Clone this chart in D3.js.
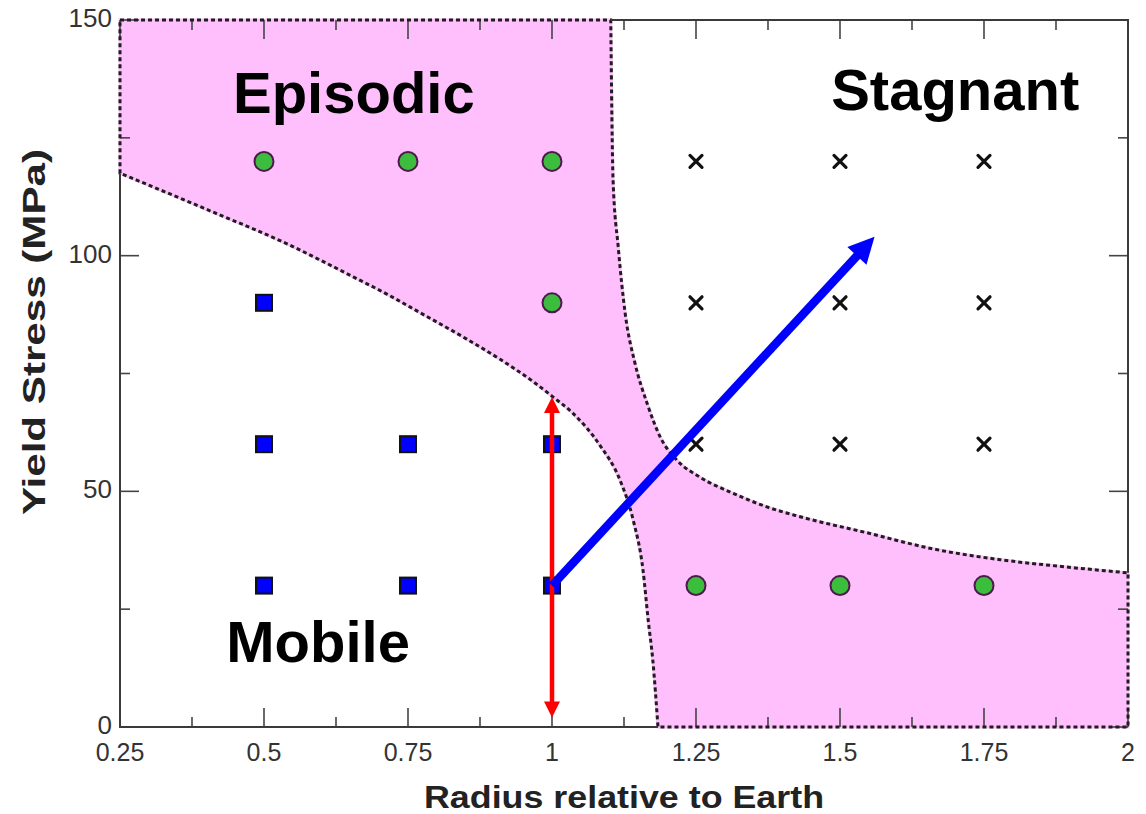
<!DOCTYPE html>
<html>
<head>
<meta charset="utf-8">
<script src="https://cdn.jsdelivr.net/npm/d3@7"></script>
<style>
  html, body { margin: 0; padding: 0; background: #fff; }
  svg { display: block; font-family: "Liberation Sans", Arial, Helvetica, sans-serif; }
</style>
</head>
<body>
<svg id="chart" width="1146" height="814"></svg>
<script>
// Regime diagram: yield stress vs planetary radius

// Boundary between mobile lid and episodic regimes (radius, yield stress)
const mobileEpisodicBoundary = [
  [0.25, 117.5], [0.307, 114.6], [0.366, 111.6], [0.424, 108.6], [0.481, 105.7],
  [0.540, 102.5], [0.597, 99.1], [0.655, 95.5], [0.714, 91.8], [0.771, 87.9],
  [0.852, 82.3], [0.910, 78.0], [0.967, 73.3], [1.002, 70.0], [1.036, 66.6],
  [1.083, 59.8], [1.118, 52.4], [1.141, 43.9], [1.158, 33.3], [1.167, 22.7],
  [1.175, 14.2], [1.184, 0]
];

// Boundary between episodic and stagnant lid regimes
const episodicStagnantBoundary = [
  [1.102, 150], [1.106, 116.1], [1.115, 101.8], [1.127, 87.8], [1.144, 77.2],
  [1.165, 68.7], [1.188, 61.5], [1.217, 56.6], [1.257, 53.0], [1.314, 49.6],
  [1.373, 46.7], [1.431, 44.6], [1.547, 41.2], [1.661, 37.8], [1.778, 35.5],
  [1.889, 34.0], [2.0, 32.7]
];

// Simulation outcomes
const episodicRuns = [[0.5, 120], [0.75, 120], [1, 120], [1, 90], [1.25, 30], [1.5, 30], [1.75, 30]];
const mobileRuns   = [[0.5, 90], [0.5, 60], [0.75, 60], [1, 60], [0.5, 30], [0.75, 30], [1, 30]];
const stagnantRuns = [[1.25, 120], [1.5, 120], [1.75, 120], [1.25, 90], [1.5, 90], [1.75, 90],
                      [1.25, 60], [1.5, 60], [1.75, 60]];

// Arrows
const redArrow  = [[1, 2], [1, 70]];
const blueArrow = [[1, 30], [1.56, 104]];

// Axes
const xDomain = [0.25, 2];
const yDomain = [0, 150];
const xTickValues = [0.25, 0.5, 0.75, 1, 1.25, 1.5, 1.75, 2];
const xTickLabels = ["0.25", "0.5", "0.75", "1", "1.25", "1.5", "1.75", "2"];
const xMinorTicks = [0.375, 0.625, 0.875, 1.125, 1.375, 1.625, 1.875];
const yTickValues = [0, 50, 100, 150];
const yTickLabels = ["0", "50", "100", "150"];
const yMinorTicks = [25, 75, 125];

const regionLabels = [
  { text: "Episodic", x: 0.656, y: 130.2 },
  { text: "Stagnant", x: 1.70, y: 131.0 },
  { text: "Mobile",   x: 0.594, y: 13.8 }
];

const margin = { top: 20, right: 18, bottom: 87, left: 120 };
const W = 1146, H = 814;
const svg = d3.select("#chart");
const x = d3.scaleLinear().domain(xDomain).range([margin.left, W - margin.right]);
const y = d3.scaleLinear().domain(yDomain).range([H - margin.bottom, margin.top]);

const pink = "#ffbffc";
const frameColor = "#3a3a3a";

// Frame background
svg.append("rect")
  .attr("x", x(xDomain[0])).attr("y", y(yDomain[1]))
  .attr("width", x(xDomain[1]) - x(xDomain[0]))
  .attr("height", y(yDomain[0]) - y(yDomain[1]))
  .attr("fill", "#fff").attr("stroke", frameColor).attr("stroke-width", 2);

// Episodic region: between the two boundaries, closed along the frame
const line = d3.line().x(d => x(d[0])).y(d => y(d[1])).curve(d3.curveMonotoneX);
const seg2 = line(episodicStagnantBoundary);
const seg1 = line(mobileEpisodicBoundary.slice().reverse());
const regionFull = `M${x(xDomain[0])},${y(yDomain[1])}` +
  seg2.replace(/^M/, "L") +
  `L${x(xDomain[1])},${y(yDomain[0])}` +
  seg1.replace(/^M/, "L") + "Z";

svg.append("path")
  .attr("d", regionFull)
  .attr("fill", pink)
  .attr("stroke", pink).attr("stroke-width", 3);

// Ticks (inward, on all four sides)
const tickG = svg.append("g").attr("stroke", "#444").attr("stroke-width", 1.6);
const majorLen = 19, minorLen = 10;
xTickValues.forEach(v => {
  tickG.append("line").attr("x1", x(v)).attr("x2", x(v)).attr("y1", y(0)).attr("y2", y(0) - majorLen);
  tickG.append("line").attr("x1", x(v)).attr("x2", x(v)).attr("y1", y(150)).attr("y2", y(150) + majorLen);
});
xMinorTicks.forEach(v => {
  tickG.append("line").attr("x1", x(v)).attr("x2", x(v)).attr("y1", y(0)).attr("y2", y(0) - minorLen);
  tickG.append("line").attr("x1", x(v)).attr("x2", x(v)).attr("y1", y(150)).attr("y2", y(150) + minorLen);
});
yTickValues.forEach(v => {
  tickG.append("line").attr("x1", x(0.25)).attr("x2", x(0.25) + majorLen).attr("y1", y(v)).attr("y2", y(v));
  tickG.append("line").attr("x1", x(2)).attr("x2", x(2) - majorLen).attr("y1", y(v)).attr("y2", y(v));
});
yMinorTicks.forEach(v => {
  tickG.append("line").attr("x1", x(0.25)).attr("x2", x(0.25) + minorLen).attr("y1", y(v)).attr("y2", y(v));
  tickG.append("line").attr("x1", x(2)).attr("x2", x(2) - minorLen).attr("y1", y(v)).attr("y2", y(v));
});

// Dashed boundaries and region outline
svg.append("path").attr("d", regionFull)
  .attr("fill", "none").attr("stroke", "#1e1e1e")
  .attr("stroke-width", 3).attr("stroke-dasharray", "4,3");

// Frame segments outside the pink region (solid)
const frameG = svg.append("g").attr("stroke", frameColor).attr("stroke-width", 2).attr("fill", "none");
frameG.append("line").attr("x1", x(0.25)).attr("x2", x(0.25))
  .attr("y1", y(mobileEpisodicBoundary[0][1])).attr("y2", y(0));
frameG.append("line").attr("x1", x(0.25)).attr("x2", x(mobileEpisodicBoundary[mobileEpisodicBoundary.length - 1][0]))
  .attr("y1", y(0)).attr("y2", y(0));
frameG.append("line").attr("x1", x(episodicStagnantBoundary[0][0])).attr("x2", x(2))
  .attr("y1", y(150)).attr("y2", y(150));
frameG.append("line").attr("x1", x(2)).attr("x2", x(2))
  .attr("y1", y(150)).attr("y2", y(episodicStagnantBoundary[episodicStagnantBoundary.length - 1][1]));

// Tick labels
const labelG = svg.append("g").attr("fill", "#333");
xTickValues.forEach((v, i) => {
  labelG.append("text").attr("x", x(v)).attr("y", y(0) + 34).attr("font-size", 25)
    .attr("text-anchor", "middle").text(xTickLabels[i]);
});
yTickValues.forEach((v, i) => {
  labelG.append("text").attr("x", x(0.25) - 8).attr("y", y(v) + 7).attr("font-size", 26)
    .attr("text-anchor", "end").text(yTickLabels[i]);
});

// Axis titles
svg.append("text")
  .attr("x", (x(0.25) + x(2)) / 2).attr("y", 808)
  .attr("text-anchor", "middle").attr("font-weight", "bold").attr("font-size", 32)
  .attr("textLength", 400).attr("lengthAdjust", "spacingAndGlyphs")
  .attr("fill", "#222").text("Radius relative to Earth");
svg.append("text")
  .attr("transform", `translate(45,332) rotate(-90)`)
  .attr("text-anchor", "middle").attr("font-weight", "bold").attr("font-size", 32)
  .attr("textLength", 366).attr("lengthAdjust", "spacingAndGlyphs")
  .attr("fill", "#222").text("Yield Stress (MPa)");

// Region labels
svg.append("g").selectAll("text").data(regionLabels).join("text")
  .attr("x", d => x(d.x)).attr("y", d => y(d.y))
  .attr("text-anchor", "middle").attr("font-weight", "bold").attr("font-size", 58)
  .attr("fill", "#000").text(d => d.text);

// Markers
svg.append("g").selectAll("circle").data(episodicRuns).join("circle")
  .attr("cx", d => x(d[0])).attr("cy", d => y(d[1])).attr("r", 9.5)
  .attr("fill", "#3dbd3d").attr("stroke", "#4b1a4b").attr("stroke-width", 2);

const sq = 16;
svg.append("g").selectAll("rect").data(mobileRuns).join("rect")
  .attr("x", d => x(d[0]) - sq / 2).attr("y", d => y(d[1]) - sq / 2)
  .attr("width", sq).attr("height", sq)
  .attr("fill", "#0000ff").attr("stroke", "#111").attr("stroke-width", 2);

const cs = 6;
svg.append("g").attr("stroke", "#111").attr("stroke-width", 3.2).attr("stroke-linecap", "round")
  .selectAll("path").data(stagnantRuns).join("path")
  .attr("d", d => {
    const cx = x(d[0]), cy = y(d[1]);
    return `M${cx - cs},${cy - cs}L${cx + cs},${cy + cs}M${cx - cs},${cy + cs}L${cx + cs},${cy - cs}`;
  });

// Arrow head: triangle at the "to" end
function arrowHead(g, from, to, len, half, color) {
  const x0 = x(from[0]), y0 = y(from[1]), x1 = x(to[0]), y1 = y(to[1]);
  const dx = x1 - x0, dy = y1 - y0, L = Math.hypot(dx, dy);
  const ux = dx / L, uy = dy / L;
  const bx = x1 - ux * len, by = y1 - uy * len;
  g.append("path")
    .attr("d", `M${x1},${y1}L${bx - uy * half},${by + ux * half}L${bx + uy * half},${by - ux * half}Z`)
    .attr("fill", color);
}

const red = "#ff0000";
const rg = svg.append("g");
{
  const [a, b] = redArrow;
  rg.append("line").attr("x1", x(a[0])).attr("y1", y(a[1]) - 12).attr("x2", x(b[0])).attr("y2", y(b[1]) + 12)
    .attr("stroke", red).attr("stroke-width", 4.5);
  arrowHead(rg, a, b, 16, 8, red);
  arrowHead(rg, b, a, 16, 8, red);
}

const blue = "#0000ff";
const bg = svg.append("g");
{
  const [a, b] = blueArrow;
  const x0 = x(a[0]), y0 = y(a[1]), x1 = x(b[0]), y1 = y(b[1]);
  const L = Math.hypot(x1 - x0, y1 - y0);
  const f = (L - 20) / L;
  bg.append("line").attr("x1", x0).attr("y1", y0)
    .attr("x2", x0 + (x1 - x0) * f).attr("y2", y0 + (y1 - y0) * f)
    .attr("stroke", blue).attr("stroke-width", 8.5);
  arrowHead(bg, a, b, 26, 13, blue);
}
</script>
</body>
</html>
